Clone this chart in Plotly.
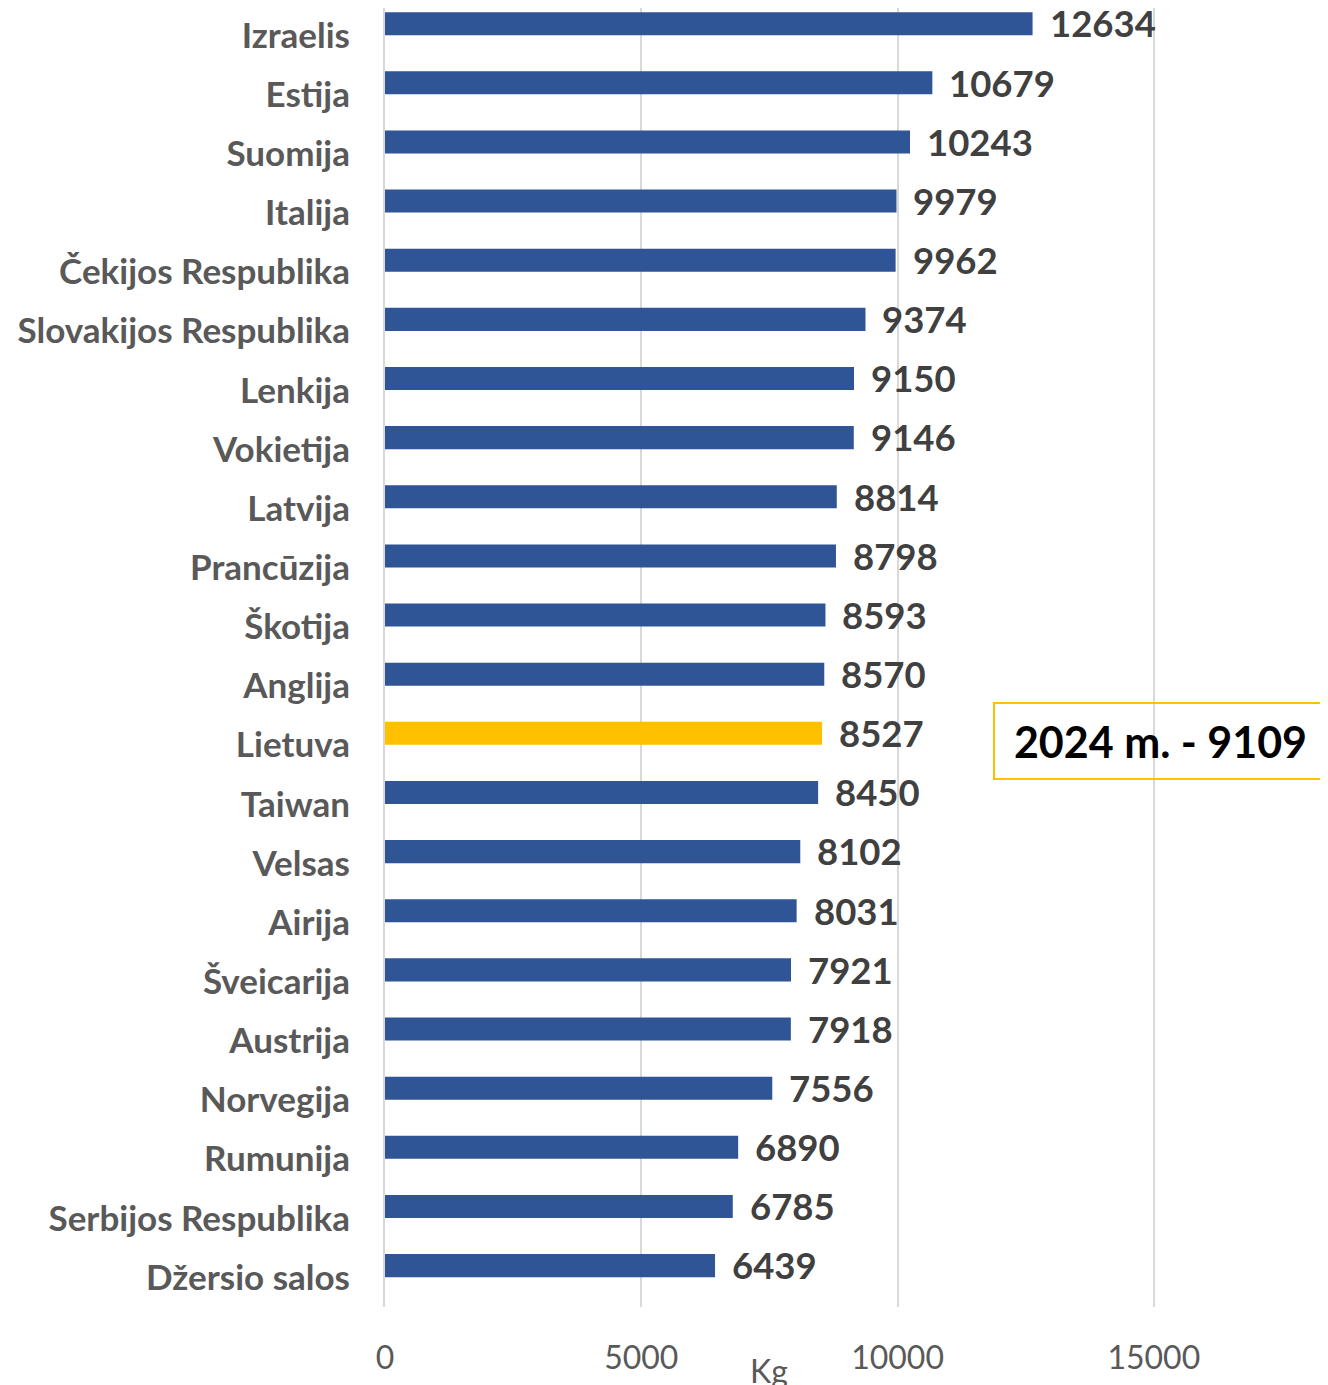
import plotly.graph_objects as go

countries = ["Izraelis", "Estija", "Suomija", "Italija", "Čekijos Respublika",
             "Slovakijos Respublika", "Lenkija", "Vokietija", "Latvija", "Prancūzija",
             "Škotija", "Anglija", "Lietuva", "Taiwan", "Velsas", "Airija",
             "Šveicarija", "Austrija", "Norvegija", "Rumunija", "Serbijos Respublika",
             "Džersio salos"]
values = [12634, 10679, 10243, 9979, 9962, 9374, 9150, 9146, 8814, 8798,
          8593, 8570, 8527, 8450, 8102, 8031, 7921, 7918, 7556, 6890, 6785, 6439]
highlight = "Lietuva"
box_text = "2024 m. - 9109"
x_ticks = [0, 5000, 10000, 15000]
x_title = "Kg"

BLUE = "#2F5597"
GOLD = "#FFC000"
FONT = "Lato"

# page body adds an 8px offset; figure is sized to fit the window
W, H = 1320, 1377
OFF = 8
PLOT_L, PLOT_B = 385 - OFF, 1307 - OFF          # figure pixel coords
PX_PER_UNIT = 769 / 15000
XMAX = 15120
plot_w = round(XMAX * PX_PER_UNIT)
band = 59.14
n = len(countries)
plot_h = PLOT_B  # t=0
y_top = (n - 0.5) - plot_h / band


def px_to_paper_x(xpic):
    return (xpic - OFF - PLOT_L) / plot_w


def px_to_paper_y(ypic):
    return (PLOT_B - (ypic - OFF)) / plot_h


colors = [GOLD if c == highlight else BLUE for c in countries]

fig = go.Figure()
fig.add_trace(go.Bar(
    x=values, y=countries, orientation="h",
    marker=dict(color=colors, line=dict(width=0)),
    width=0.39, offset=-0.395,
    hoverinfo="x+y", showlegend=False,
))

for c, v in zip(countries, values):
    fig.add_annotation(
        x=v, y=c, xref="x", yref="y", text=f"<b>{v}</b>", showarrow=False,
        xanchor="left", yanchor="middle", xshift=15, yshift=12,
        font=dict(family=FONT, size=36.5, color="#404040"),
    )

fig.add_annotation(
    x=px_to_paper_x(1160.5), y=px_to_paper_y(741), xref="paper", yref="paper",
    text=f"<b>{box_text}</b>", showarrow=False, xanchor="center", yanchor="middle",
    width=331, height=74, borderpad=0, borderwidth=2, bordercolor=GOLD,
    font=dict(family=FONT, size=43, color="#000000"),
)

fig.add_annotation(
    x=7500, y=px_to_paper_y(1370), xref="x", yref="paper", text=x_title,
    showarrow=False, xanchor="center", yanchor="middle",
    font=dict(family=FONT, size=32, color="#595959"),
)

fig.update_layout(
    width=W, height=H,
    margin=dict(l=PLOT_L, r=W - PLOT_L - plot_w, t=0, b=H - PLOT_B, pad=0),
    plot_bgcolor="white", paper_bgcolor="white",
    xaxis=dict(
        range=[0, XMAX], tickvals=x_ticks, ticktext=[str(t) for t in x_ticks],
        showgrid=True, gridcolor="#d9d9d9", gridwidth=2,
        zeroline=False, showline=False, ticks="",
        tickfont=dict(family=FONT, size=32, color="#595959"),
        ticklabelstandoff=29, fixedrange=True,
    ),
    yaxis=dict(
        categoryorder="array", categoryarray=countries,
        range=[n - 0.5, y_top], showgrid=False, zeroline=False,
        showline=True, linecolor="#d9d9d9", linewidth=2, ticks="",
        tickfont=dict(family=FONT, size=35, color="#595959", weight="bold"),
        ticklabelstandoff=26, fixedrange=True,
    ),
)

fig.write_html("out.html")
